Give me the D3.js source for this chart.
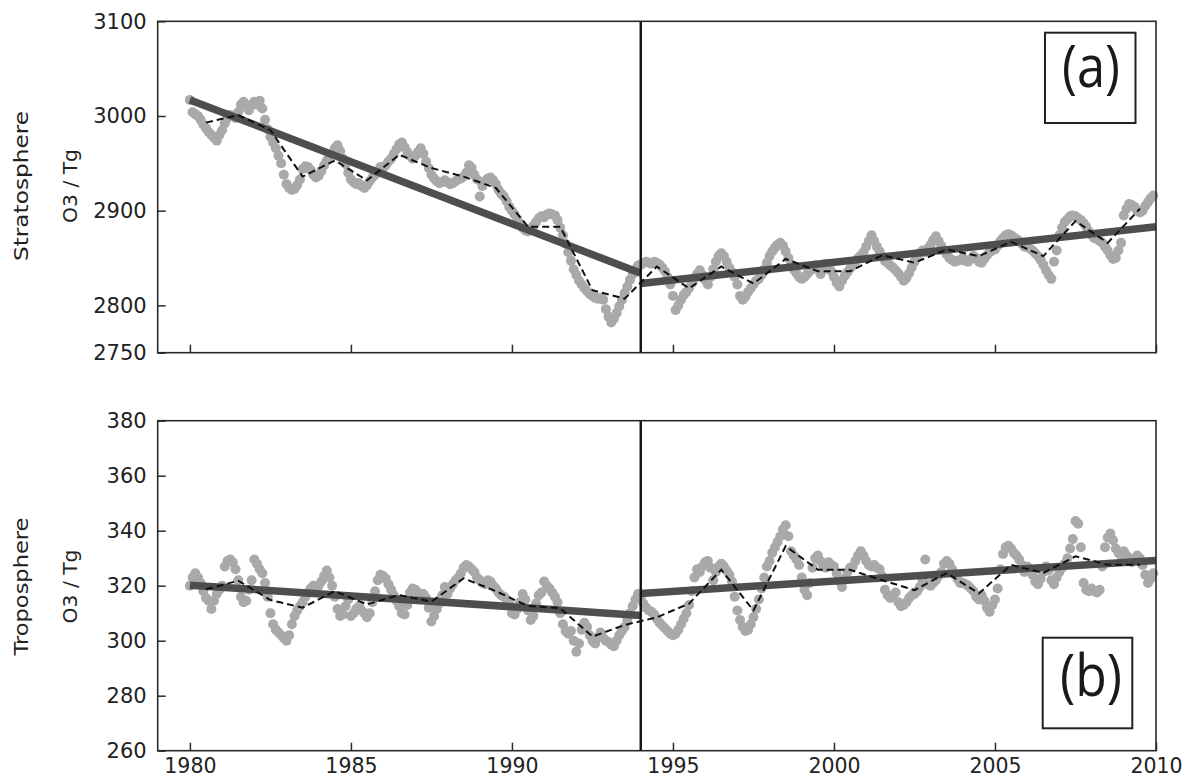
<!DOCTYPE html>
<html><head><meta charset="utf-8">
<script src="https://cdn.jsdelivr.net/npm/d3@7"></script>
<style>body{margin:0;background:#fff}svg{display:block}</style>
</head><body>
<svg id="chart" width="1190" height="778"></svg>
<script>
// ---- data ----
const firstYear = 1980, lastYear = 2010, breakYear = 1994;
const xTicks = [1980, 1985, 1990, 1995, 2000, 2005, 2010];
const stratTicks = [2750, 2800, 2900, 3000, 3100];
const tropoTicks = [260, 280, 300, 320, 340, 360, 380];

// monthly stratospheric O3 burden (Tg), Jan 1980 .. Dec 2009
const stratMonthly = [
 3017,3004,3002,3000,2996,2991,2987,2983,2980,2977,2974,2980,
 2985,2992,2998,3001,3000,2998,3004,3012,3015,3009,3006,3012,
 3015,3012,3016,3008,2996,2986,2978,2972,2966,2958,2950,2938,
 2928,2924,2922,2923,2927,2933,2944,2947,2946,2943,2938,2935,
 2937,2942,2948,2953,2957,2960,2966,2969,2963,2955,2949,2940,
 2933,2930,2928,2929,2926,2924,2927,2931,2935,2938,2942,2946,
 2945,2948,2952,2955,2960,2965,2970,2972,2967,2962,2958,2955,
 2958,2962,2966,2960,2952,2945,2938,2934,2931,2929,2930,2932,
 2930,2928,2929,2931,2933,2934,2936,2940,2948,2945,2938,2933,
 2915,2926,2931,2934,2935,2932,2928,2922,2918,2915,2910,2904,
 2900,2896,2891,2886,2882,2879,2878,2881,2884,2888,2892,2894,
 2893,2896,2897,2896,2895,2890,2882,2874,2865,2856,2847,2838,
 2832,2826,2822,2818,2815,2812,2810,2808,2807,2808,2806,2796,
 2788,2782,2786,2792,2799,2806,2813,2820,2827,2833,2838,2842,
 2843,2845,2846,2845,2844,2846,2845,2843,2840,2836,2830,2822,
 2810,2795,2800,2806,2811,2814,2818,2823,2828,2833,2837,2832,
 2827,2822,2830,2838,2846,2852,2855,2852,2846,2840,2835,2830,
 2822,2810,2806,2809,2814,2818,2822,2826,2828,2832,2838,2845,
 2852,2857,2861,2864,2866,2863,2857,2850,2843,2838,2834,2830,
 2828,2830,2833,2836,2839,2842,2838,2833,2838,2844,2840,2836,
 2830,2824,2820,2826,2831,2835,2839,2842,2846,2850,2853,2856,
 2862,2868,2874,2868,2862,2857,2852,2847,2845,2842,2840,2837,
 2834,2830,2826,2829,2834,2840,2846,2851,2855,2858,2856,2860,
 2864,2869,2873,2868,2863,2858,2854,2850,2848,2846,2847,2848,
 2850,2847,2846,2849,2852,2850,2846,2845,2849,2853,2856,2858,
 2859,2863,2868,2871,2874,2875,2874,2872,2870,2868,2865,2862,
 2862,2860,2858,2855,2852,2848,2843,2837,2832,2828,2846,2858,
 2874,2882,2888,2891,2894,2895,2894,2892,2890,2887,2883,2878,
 2874,2871,2870,2868,2866,2862,2858,2853,2849,2850,2858,2866,
 2895,2902,2907,2906,2904,2900,2898,2900,2905,2909,2913,2916
];
// annual means (dashed line), 1980 .. 2009
const stratAnnual = [2993,3001,2985,2936,2953,2932,2959,2945,2936,2924,2883,2883,2816,2807,
 2841,2818,2841,2823,2849,2836,2836,2853,2845,2859,2852,2867,2852,2889,2866,2902];
// trend line end values (1980 -> 1994, 1994 -> 2010)
const stratTrendPre = [3017, 2834];
const stratTrendPost = [2823, 2883];

// monthly tropospheric O3 burden (Tg)
const tropoMonthly = [
 320,323,324.5,323,321,318,315.5,314.5,311.5,314.5,317,318.5,
 320,327,329,329.5,328.5,326,322,316,314,314.5,318.5,322,
 329.5,328,326,324.5,321,316,310,306,304,303,302,301,
 300,302,306,309,311,312.5,314,316,317.5,319,320,319.5,
 320,321.5,323.5,325.5,323,320,316,311.5,309,309.5,312.5,315,
 309,310,311.5,312.5,311,310,308.5,310,314,318,322,324,
 323.5,322.5,320.5,318.5,316.5,314.5,312.5,310,309.5,313,317.5,319,
 318.5,317.5,316.5,317,315.5,312,307,309,311.5,313.5,316.5,319.5,
 317,319,320.5,322,323,324.5,326.5,327.5,327,326,325,323,
 322,321,320.5,322,321.5,320,319,317.5,316.5,316,315,313.5,
 310,309.5,311.5,314,317,315,311,307.5,309,313.5,316.5,317.5,
 321.5,320,319,317.5,316,314,310,306,303.5,302.5,303.5,300,
 296,299,304,306.5,305,302,300,299,301,303,301,300,
 299.5,298.5,298,300,302,303.5,305,307.5,310,312.5,315,317,
 316,313.5,312,311,310.5,309.5,308,306.5,305.5,304.5,303.5,302.5,
 302,302.5,304,306,308,310,313,318,323,326,325,327,
 328.5,329,326.5,322,325,327,328,327,325.5,324,321.5,316,
 311,307.5,305,303.5,304,306,308.5,311.5,315,319,323,327,
 329,332,334,336,338,340.5,342,338,332.5,331,329.5,327.5,
 323,318.5,316.5,321,326.5,330,331,329,327,326.5,328.5,327.5,
 327,324.5,321.5,319.5,322.5,325,326.5,327,329,331,332.5,331,
 329,327.5,327,327.5,326.5,326,323.5,318.5,316.5,315.5,316.5,317.5,
 314,312.5,313,314,315.5,316.5,317,318,319.5,322,329.5,320.5,
 320,321,322,323.5,325,328,329,328,326,324,322.5,321,
 321,320.5,320,319,318,316,315,316.5,314.5,312,310.5,313,
 315,319,326,331.5,334,334.5,333.5,332,331,329.5,327.5,325,
 327,326,324,321.5,320.5,322.5,325,327,325.5,322,320.5,323,
 325,326.5,328,330,333.5,337,343.5,342.5,334,321,318.5,318,
 319,318,317.5,318.5,327,334,337.5,339,336.5,333.5,332,331,
 332.5,331,330,328.5,329.5,331,330,327.5,324,321,322.5,324.5
];
const tropoAnnual = [318.7,321.8,314.8,312,318,313.2,316.6,314.2,322.7,318,312.6,311.8,301.5,305.7,
 308.5,313.5,325.8,311,334.4,325.8,325.8,322,318.4,324.6,317.2,327.6,324.6,330.7,327.6,327.6];
const tropoTrendPre = [320.2, 309.2];
const tropoTrendPost = [317.2, 329.2];

const panelLabels = ["(a)", "(b)"];
const rowLabels = ["Stratosphere", "Troposphere"];
const unitLabel = "O3 / Tg";

// ---- drawing ----
const svg = d3.select("#chart");
const x = d3.scaleLinear().domain([1979, lastYear]).range([157.7, 1156]);

const panels = [
  {monthly: stratMonthly, annual: stratAnnual, pre: stratTrendPre, post: stratTrendPost,
   ticks: stratTicks, domain: [2750, 3100], top: 21.3, bottom: 352.7, showX: false,
   label: panelLabels[0], row: rowLabels[0], rowLen: 150, labelCy: 186,
   box: {x0: 1045, x1: 1135.5, y0: 32.7, y1: 123}, textBase: 87, textLen: 58},
  {monthly: tropoMonthly, annual: tropoAnnual, pre: tropoTrendPre, post: tropoTrendPost,
   ticks: tropoTicks, domain: [260, 380], top: 420.7, bottom: 750.7, showX: true,
   label: panelLabels[1], row: rowLabels[1], rowLen: 138, labelCy: 586.5,
   box: {x0: 1042.7, x1: 1132.3, y0: 637.7, y1: 728.3}, textBase: 696, textLen: 62}
];

const fontTick = "'DejaVu Sans', sans-serif";

panels.forEach(p => {
  const y = d3.scaleLinear().domain(p.domain).range([p.bottom, p.top]);
  const g = svg.append("g");
  const [x0, x1] = x.range();

  // monthly dots
  g.append("g").selectAll("circle").data(p.monthly).join("circle")
    .attr("cx", (d, i) => x(firstYear + i / 12))
    .attr("cy", d => y(d))
    .attr("r", 5)
    .attr("fill", "#a9a9a9");

  // trend segments
  const trendLine = d3.line().x(d => x(d[0])).y(d => y(d[1]));
  [[[firstYear, p.pre[0]], [breakYear, p.pre[1]]],
   [[breakYear, p.post[0]], [lastYear, p.post[1]]]].forEach(seg => {
    g.append("path").attr("d", trendLine(seg))
      .attr("fill", "none").attr("stroke", "#4e4e4e").attr("stroke-width", 7.5);
  });

  // annual means dashed
  const annualLine = d3.line().x((d, i) => x(firstYear + i + 0.5)).y(d => y(d));
  g.append("path").attr("d", annualLine(p.annual))
    .attr("fill", "none").attr("stroke", "#111").attr("stroke-width", 2)
    .attr("stroke-dasharray", "7,4");

  // break line
  g.append("line").attr("x1", x(breakYear)).attr("x2", x(breakYear))
    .attr("y1", p.top).attr("y2", p.bottom)
    .attr("stroke", "#111").attr("stroke-width", 2.4);

  // frame
  g.append("rect").attr("x", x0).attr("y", p.top)
    .attr("width", x1 - x0).attr("height", p.bottom - p.top)
    .attr("fill", "none").attr("stroke", "#2a2a2a").attr("stroke-width", 1.6);

  // y axis
  const ya = g.append("g").attr("transform", `translate(${x0},0)`)
    .call(d3.axisLeft(y).tickValues(p.ticks).tickSizeInner(-8).tickSizeOuter(0).tickPadding(11).tickFormat(d3.format("d")));
  ya.select(".domain").remove();
  ya.selectAll("line").attr("stroke", "#2a2a2a").attr("stroke-width", 1.5);
  ya.selectAll("text").attr("font-family", fontTick).attr("font-size", 21).attr("fill", "#222");

  // x axis
  const xa = g.append("g").attr("transform", `translate(0,${p.bottom})`)
    .call(d3.axisBottom(x).tickValues(xTicks).tickSizeInner(-8).tickSizeOuter(0).tickPadding(8)
      .tickFormat(p.showX ? d3.format("d") : () => ""));
  xa.select(".domain").remove();
  xa.selectAll("line").attr("stroke", "#2a2a2a").attr("stroke-width", 1.5);
  xa.selectAll("text").attr("font-family", fontTick).attr("font-size", 20.5).attr("fill", "#222");

  // row labels
  g.append("text").attr("transform", `translate(28,${p.labelCy}) rotate(-90)`)
    .attr("text-anchor", "middle").attr("font-family", fontTick).attr("font-size", 20)
    .attr("textLength", p.rowLen).attr("lengthAdjust", "spacingAndGlyphs")
    .attr("fill", "#222").text(p.row);
  g.append("text").attr("transform", `translate(77,${p.labelCy}) rotate(-90)`)
    .attr("text-anchor", "middle").attr("font-family", fontTick).attr("font-size", 20)
    .attr("textLength", 74).attr("lengthAdjust", "spacingAndGlyphs")
    .attr("fill", "#222").text(unitLabel);

  // panel label box
  const b = p.box;
  g.append("rect").attr("x", b.x0).attr("y", b.y0).attr("width", b.x1 - b.x0).attr("height", b.y1 - b.y0)
    .attr("fill", "#fff").attr("stroke", "#222").attr("stroke-width", 2);
  g.append("text").attr("x", 1091).attr("y", p.textBase)
    .attr("text-anchor", "middle")
    .attr("font-family", "'Open Sans', sans-serif").attr("font-size", 58).attr("fill", "#1a1a1a")
    .attr("textLength", p.textLen).attr("lengthAdjust", "spacingAndGlyphs")
    .text(p.label);
});
</script>
</body></html>
